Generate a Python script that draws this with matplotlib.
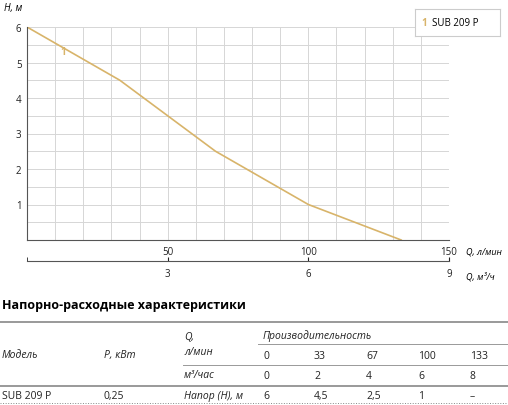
import numpy as np
import matplotlib
matplotlib.use("Agg")
import matplotlib.pyplot as plt
from matplotlib.lines import Line2D

plt.rcParams["font.family"] = ["Open Sans", "DejaVu Sans"]

q_lmin = [0, 33, 67, 100, 133]
q_m3h = [0, 2, 4, 6, 8]
head = [6, 4.5, 2.5, 1, 0]
table_head = ["6", "4,5", "2,5", "1", "–"]
model = "SUB 209 P"
power = "0,25"
GOLD = "#d8b46a"
W, H = 508, 406

fig = plt.figure(figsize=(W / 100, H / 100), dpi=100)
def fx(px): return px / W
def fy(py): return 1 - py / H

ax = fig.add_axes([fx(27), fy(241), fx(449) - fx(27), fy(28) - fy(241)])
ax.plot(q_lmin, head, color=GOLD, lw=1.2)
ax.text(12, 5.3, "1", color=GOLD, fontsize=7, fontweight="bold", va="center")
ax.set_xlim(0, 150); ax.set_ylim(0, 6)
ax.set_xticks(np.arange(0, 151, 10), minor=True)
ax.set_xticks([50, 100, 150])
ax.set_yticks(np.arange(0, 6.01, 0.5), minor=True)
ax.set_yticks([1, 2, 3, 4, 5, 6])
ax.grid(which="both", color="#d6d6d6", lw=0.7)
ax.tick_params(which="both", length=0, labelsize=7, pad=4, colors="#222222")
for s in ["top", "right"]:
    ax.spines[s].set_visible(False)
for s in ["left", "bottom"]:
    ax.spines[s].set_color("#555555")
ax.set_axisbelow(True)
fig.text(fx(4), fy(8), "H, м", fontsize=7, style="italic", va="center")
fig.text(fx(466), fy(252), "Q, л/мин", fontsize=6.5, style="italic", va="center", ha="left")

ax2 = fig.add_axes([fx(27), fy(262), fx(449) - fx(27), 0.0001])
ax2.set_xlim(0, 9); ax2.set_yticks([])
ax2.set_xticks([3, 6, 9])
ax2.set_xticks([0], minor=True)
ax2.tick_params(which="both", direction="in", length=3, labelsize=7, colors="#222222", pad=5)
for s in ["top", "right", "left"]:
    ax2.spines[s].set_visible(False)
ax2.spines["bottom"].set_color("#555555")
fig.text(fx(466), fy(277), "Q, м³/ч", fontsize=6.5, style="italic", va="center", ha="left")

# legend box
leg = fig.add_axes([fx(415), fy(37), fx(85), fy(10) - fy(37)])
leg.set_xticks([]); leg.set_yticks([])
for s in leg.spines.values():
    s.set_color("#cccccc")
leg.text(0.08, 0.5, "1", color=GOLD, fontsize=7, fontweight="bold", va="center")
leg.text(0.2, 0.5, "SUB 209 P", fontsize=7, va="center")

# table
fig.text(fx(2), fy(305), "Напорно-расходные характеристики", fontsize=9, fontweight="bold", va="center")
def hline(y, x0, x1, **kw):
    fig.add_artist(Line2D([fx(x0), fx(x1)], [fy(y), fy(y)], **kw))
hline(323, 0, 508, color="#888888", lw=1.2)
hline(345, 258, 508, color="#999999", lw=0.7)
hline(366, 183, 508, color="#999999", lw=0.7)
hline(387, 0, 508, color="#888888", lw=1.2)
hline(404, 0, 508, color="#888888", lw=0.7, ls=":")
tk = dict(fontsize=7.5, va="center", color="#222222")
fig.text(fx(2), fy(356), "Модель", style="italic", **tk)
fig.text(fx(104), fy(356), "Р, кВт", style="italic", **tk)
fig.text(fx(184), fy(338), "Q,", style="italic", **tk)
fig.text(fx(184), fy(353), "л/мин", style="italic", **tk)
fig.text(fx(263), fy(336), "Производительность", style="italic", **tk)
fig.text(fx(184), fy(376), "м³/час", style="italic", **tk)
cols = [263, 314, 366, 418, 470]
for x, a, b, c in zip(cols, q_lmin, q_m3h, table_head):
    fig.text(fx(x), fy(357), str(a), **tk)
    fig.text(fx(x), fy(377), str(b), **tk)
    fig.text(fx(x), fy(397), c, **tk)
fig.text(fx(2), fy(397), model, **tk)
fig.text(fx(104), fy(397), power, **tk)
fig.text(fx(184), fy(397), "Напор (Н), м", style="italic", **tk)

fig.savefig("out.png", dpi=100)
